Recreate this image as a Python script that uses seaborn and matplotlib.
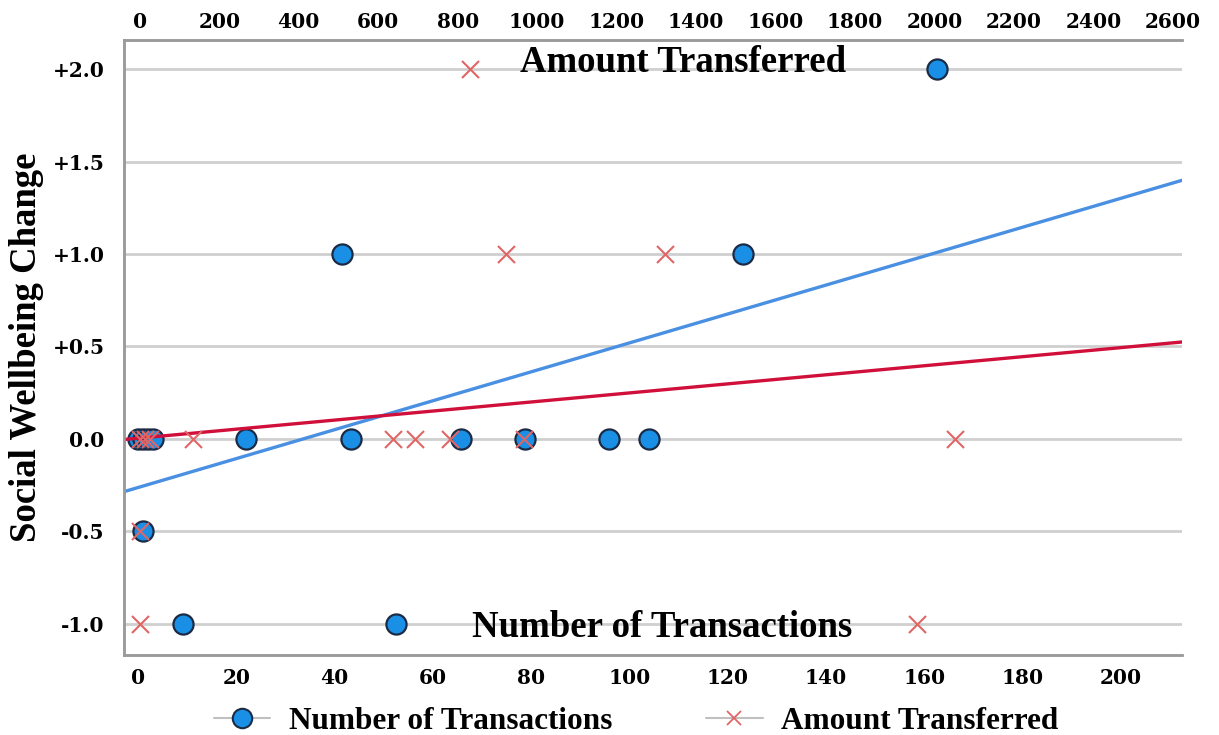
import matplotlib
matplotlib.use("Agg")
import matplotlib.pyplot as plt
from matplotlib.lines import Line2D
import numpy as np
import pandas as pd
import seaborn as sns

# ─── Data ────────────────────────────────────────────────────────────────────

TX_COUNT = [0, 1, 2, 3, 1, 22, 41.5, 43.3, 9.2, 52.5, 65.7, 78.7, 95.8, 104, 123, 162.6]
TX_CHANGE = [0, 0, 0, 0, -0.5, 0, 1, 0, -1, -1, 0, 0, 0, 0, 1, 2]

AMOUNT = [0, 12, 25, 0, 0, 133, 637, 692, 780, 967, 2051, 831, 921, 1321, 1956]
AMOUNT_CHANGE = [0, 0, 0, -0.5, -1, 0, 0, 0, 0, 0, 0, 2, 1, 1, -1]

# fitted trend lines (intercept, slope)
FIT_TX = (-0.2625, 0.00782)
FIT_AMOUNT = (0.005, 0.000198)

TX_TICKS = list(range(0, 201, 20))
AMOUNT_TICKS = list(range(0, 2601, 200))
Y_TICKS = [-1.0, -0.5, 0.0, 0.5, 1.0, 1.5, 2.0]
Y_LABELS = ["-1.0", "-0.5", "0.0", "+0.5", "+1.0", "+1.5", "+2.0"]

BLUE_FILL = "#1a8fe6"
BLUE_EDGE = "#1b2b45"
BLUE_LINE = "#4a90e2"
RED_LINE = "#d0103a"
RED_X = "#e06666"
GRID = "#cfcfcf"
SPINE = "#9a9a9a"

sns.set_theme(style="white")
plt.rcParams["font.family"] = ["Liberation Serif", "DejaVu Serif"]
plt.rcParams["text.color"] = "black"

tx_df = pd.DataFrame({"count": TX_COUNT, "change": TX_CHANGE})
amt_df = pd.DataFrame({"amount": AMOUNT, "change": AMOUNT_CHANGE})

fig = plt.figure(figsize=(12.19, 7.35), dpi=100)
ax = fig.add_axes([0.1017, 0.1088, 0.868, 0.8368])
ax2 = ax.twiny()

# ─── Number of transactions (bottom axis) ────────────────────────────────────
ax.set_xlim(-2.85, 212.4)
ax.set_ylim(-1.168, 2.157)

x_line = np.array(ax.get_xlim())
ax.plot(x_line, FIT_TX[0] + FIT_TX[1] * x_line, color=BLUE_LINE, lw=2.4, zorder=2)
sns.scatterplot(data=tx_df, x="count", y="change", ax=ax, s=210,
                color=BLUE_FILL, edgecolor=BLUE_EDGE, linewidth=1.6, zorder=3,
                legend=False)

# ─── Amount transferred (top axis) ───────────────────────────────────────────
ax2.set_xlim(-40, 2623)
x2_line = np.array(ax2.get_xlim())
ax2.plot(x2_line, FIT_AMOUNT[0] + FIT_AMOUNT[1] * x2_line, color=RED_LINE, lw=2.4, zorder=2)
sns.scatterplot(data=amt_df, x="amount", y="change", ax=ax2, s=150, marker="x",
                color=RED_X, linewidth=1.5, zorder=4, legend=False)

# ─── Axes styling ────────────────────────────────────────────────────────────
ax.set_yticks(Y_TICKS)
ax.set_yticklabels(Y_LABELS)
ax.set_xticks(TX_TICKS)
ax2.set_xticks(AMOUNT_TICKS)
ax.yaxis.grid(True, color=GRID, lw=2)
ax.xaxis.grid(False)
ax2.grid(False)
ax.set_axisbelow(True)

for lab in ax.get_xticklabels() + ax.get_yticklabels() + ax2.get_xticklabels():
    lab.set_fontfamily("DejaVu Serif")
    lab.set_fontweight("bold")
    lab.set_fontsize(14.5)
    lab.set_color("black")
ax.tick_params(axis="both", length=0, pad=9)
ax.tick_params(axis="y", pad=14)
ax2.tick_params(axis="x", length=0, pad=6)

ax.set_xlabel("")
ax2.set_xlabel("")
ax.set_ylabel("Social Wellbeing Change", fontsize=26.5, fontweight="bold", color="black")
ax.yaxis.set_label_coords(-0.076, 0.5)

for a in (ax, ax2):
    a.spines["right"].set_visible(False)
    for side in ("left", "bottom", "top"):
        a.spines[side].set_color(SPINE)
        a.spines[side].set_linewidth(1.8)

ax.text(0.528, 0.964, "Amount Transferred", transform=ax.transAxes, ha="center",
        va="center", fontsize=26.5, fontweight="bold", color="black", zorder=5)
ax.text(0.509, 0.044, "Number of Transactions", transform=ax.transAxes, ha="center",
        va="center", fontsize=26.5, fontweight="bold", color="black", zorder=5)

handles = [
    Line2D([], [], color="#c0c0c0", lw=1.5, marker="o", markersize=14,
           markerfacecolor=BLUE_FILL, markeredgecolor=BLUE_EDGE, markeredgewidth=1.5),
    Line2D([], [], color="#c0c0c0", lw=1.5, marker="x", markersize=10,
           markeredgecolor=RED_X, markeredgewidth=1.3),
]
leg = fig.legend(handles, ["Number of Transactions", "Amount Transferred"],
                 loc="lower center", bbox_to_anchor=(0.522, -0.04), ncol=2, frameon=False,
                 prop={"size": 22.5, "weight": "bold"}, columnspacing=3.0,
                 handlelength=1.8, handletextpad=0.6)
for t in leg.get_texts():
    t.set_color("black")

fig.savefig("out.png", dpi=100)
plt.close(fig)
